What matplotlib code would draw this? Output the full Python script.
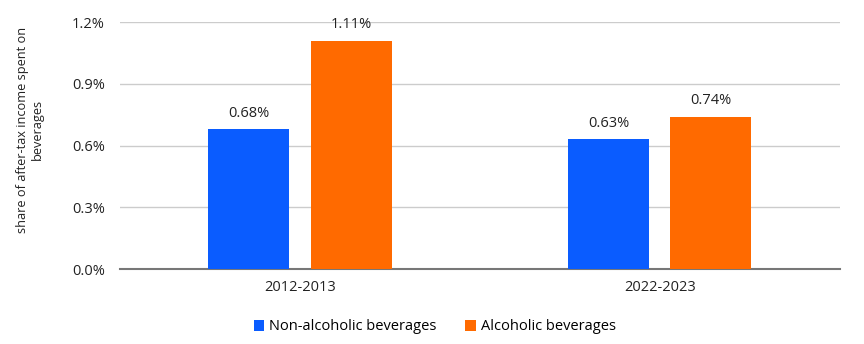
import matplotlib.pyplot as plt
import numpy as np

periods = ['2012-2013', '2022-2023']
non_alcoholic = [0.68, 0.63]
alcoholic = [1.11, 0.74]
series_names = ['Non-alcoholic beverages', 'Alcoholic beverages']
colors = ['#0a5cff', '#ff6a00']

plt.rcParams['font.family'] = ['Open Sans', 'DejaVu Sans']
plt.rcParams['font.size'] = 10.5

fig = plt.figure(figsize=(8.64, 3.44), dpi=100)
ax = fig.add_axes([0.139, 0.218, 0.833, 0.718])

x = np.arange(len(periods))
w = 0.225
off = 0.142
for vals, name, c, d in zip([non_alcoholic, alcoholic], series_names, colors, [-off, off]):
    bars = ax.bar(x + d, vals, w, color=c, label=name, zorder=3)
    for b, v in zip(bars, vals):
        ax.text(b.get_x() + b.get_width() / 2, v + 0.04, f'{v:.2f}%',
                ha='center', va='bottom', fontsize=10.5, color='#222222')

ax.set_xlim(-0.5, 1.5)
ax.set_ylim(0, 1.2)
ticks = [0, 0.3, 0.6, 0.9, 1.2]
ax.set_yticks(ticks)
ax.set_yticklabels([f'{t:.1f}%' for t in ticks])
ax.set_xticks(x)
ax.set_xticklabels(periods)
ax.yaxis.grid(True, color='#cccccc', linewidth=1, zorder=0)
ax.tick_params(axis='both', length=0, colors='#222222', labelsize=10.5)
ax.tick_params(axis='y', pad=11)
ax.tick_params(axis='x', pad=8)
for s in ['top', 'right', 'left']:
    ax.spines[s].set_visible(False)
ax.spines['bottom'].set_color('#777777')
ax.spines['bottom'].set_linewidth(1.5)
ax.set_ylabel('share of after-tax income spent on\nbeverages', fontsize=9.2, color='#222222')
ax.yaxis.set_label_coords(-0.106, 0.565)

fig.legend(loc='center', bbox_to_anchor=(0.503, 0.05), ncol=2, frameon=False,
           handlelength=0.75, handleheight=0.75, handletextpad=0.3, columnspacing=2.0, fontsize=10.5)

fig.savefig('out.png', dpi=100)
